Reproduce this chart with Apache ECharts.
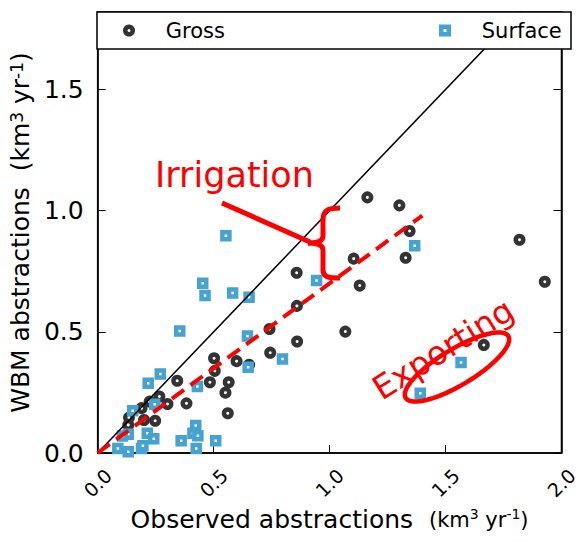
<!DOCTYPE html>
<html>
<head>
<meta charset="utf-8">
<title>WBM vs observed abstractions</title>
<script src="https://cdn.jsdelivr.net/npm/echarts@6/dist/echarts.min.js"></script>
<style>
  html, body { margin: 0; padding: 0; background: #fff; }
  #chart { width: 581px; height: 542px; }
</style>
</head>
<body>
<div id="chart"></div>
<script>
// [observed, WBM] in km3/yr
const gross = [
  [0.135, 0.146], [0.132, 0.116], [0.189, 0.185], [0.200, 0.136], [0.224, 0.212],
  [0.248, 0.133], [0.266, 0.233], [0.301, 0.202], [0.343, 0.298], [0.383, 0.205],
  [0.484, 0.292], [0.505, 0.339], [0.502, 0.391], [0.551, 0.249], [0.561, 0.164],
  [0.565, 0.292], [0.599, 0.379], [0.653, 0.364], [0.741, 0.512], [0.744, 0.414],
  [0.859, 0.607], [0.858, 0.744], [0.860, 0.460], [1.068, 0.501], [1.104, 0.802],
  [1.130, 0.691], [1.163, 1.055], [1.301, 1.022], [1.345, 0.916], [1.328, 0.806],
  [1.665, 0.446], [1.819, 0.880], [1.928, 0.707]
];
const surface = [
  [0.453, 0.701], [0.463, 0.650], [0.582, 0.660], [0.653, 0.643], [0.553, 0.897],
  [0.354, 0.504], [0.646, 0.483], [0.797, 0.388], [0.649, 0.354], [0.430, 0.274],
  [0.270, 0.326], [0.218, 0.288], [0.246, 0.201], [0.151, 0.174], [0.132, 0.077],
  [0.107, 0.070], [0.214, 0.081], [0.242, 0.059], [0.087, 0.019], [0.132, 0.005],
  [0.189, 0.019], [0.195, 0.030], [0.360, 0.051], [0.423, 0.113], [0.411, 0.081],
  [0.432, 0.071], [0.425, 0.019], [0.509, 0.051], [0.944, 0.712], [1.367, 0.855],
  [1.567, 0.373], [1.391, 0.247]
];
const oneToOne = [[0, 0], [2, 2]];
const fitLine = [[0, 0], [1.4, 0.98]];
const legendNames = ['Gross', 'Surface'];

const FONT = 'DejaVu Sans';
const RED = '#ff0000';
const DARK = '#333333';
const BLUE = '#45a3d2';
const fmt = v => (v % 0.5 === 0 ? v.toFixed(1) : '');
const units = '{u|(km}{s|3}{u| yr}{s|-1}{u|)}';

const chart = echarts.init(document.getElementById('chart'), null, { renderer: 'svg' });

const tickStyle = { show: true, inside: true, length: 8, lineStyle: { color: '#000', width: 1 } };
const redStroke = { stroke: RED, lineWidth: 5, fill: null };

// outline of the "Exporting" loop, drawn as a polygon
const loop = [];
for (let i = 0; i < 48; i++) {
  const t = i / 48 * Math.PI * 2;
  const a = -31 * Math.PI / 180;
  const ex = 60 * Math.cos(t), ey = 18 * Math.sin(t);
  loop.push([457 + ex * Math.cos(a) - ey * Math.sin(a), 367 + ex * Math.sin(a) + ey * Math.cos(a)]);
}

const legendItem = (name, icon, color, left) => ({
  data: [{ name, icon }], left, top: 20, padding: 0, z: 6,
  itemWidth: 7.5, itemHeight: 7.5, selectedMode: false,
  itemStyle: { color: '#fff', borderColor: color, borderWidth: 4.5 },
  textStyle: { fontFamily: FONT, fontSize: 21, color: '#000', padding: [0, 0, 0, 28] }
});

const option = {
  backgroundColor: '#fff',
  animation: false,
  grid: {
    left: 97, right: 10, top: 12, bottom: 89,
    show: true, borderColor: '#000', borderWidth: 1.5
  },
  legend: [
    legendItem(legendNames[0], 'circle', DARK, 123),
    legendItem(legendNames[1], 'rect', BLUE, 439)
  ],
  xAxis: {
    type: 'value', min: 0, max: 2, interval: 0.5,
    name: '{a|Observed abstractions  }' + units,
    nameLocation: 'middle', nameGap: 50,
    nameTextStyle: {
      rich: {
        a: { fontFamily: FONT, fontSize: 25, color: '#000' },
        u: { fontFamily: FONT, fontSize: 21, color: '#000' },
        s: { fontFamily: FONT, fontSize: 14, color: '#000', verticalAlign: 'top' }
      }
    },
    axisLine: { show: true, lineStyle: { color: '#000', width: 1.5 } },
    axisTick: tickStyle,
    splitLine: { show: false },
    axisLabel: {
      rotate: 45, align: 'center', verticalAlign: 'middle', margin: 30,
      fontFamily: FONT, fontSize: 19, color: '#000', formatter: fmt
    }
  },
  yAxis: [
    {
      type: 'value', min: 0, max: 1.82, interval: 0.5,
      name: '{u|WBM abstractions  }' + units,
      nameLocation: 'middle', nameGap: 56,
      nameTextStyle: {
        rich: {
          u: { fontFamily: FONT, fontSize: 25, color: '#000' },
          s: { fontFamily: FONT, fontSize: 17, color: '#000', verticalAlign: 'top' }
        }
      },
      axisLine: { show: true, lineStyle: { color: '#000', width: 1.5 } },
      axisTick: tickStyle,
      splitLine: { show: false },
      axisLabel: {
        fontFamily: FONT, fontSize: 25, color: '#000', margin: 14,
        showMaxLabel: false, formatter: fmt
      }
    },
    {
      type: 'value', min: 0, max: 1.82, interval: 0.5, position: 'right',
      axisLine: { show: true, lineStyle: { color: '#000', width: 1.5 } },
      axisTick: tickStyle,
      axisLabel: { show: false },
      splitLine: { show: false }
    }
  ],
  series: [
    {
      name: 'Gross', type: 'scatter', data: gross, z: 2,
      symbol: 'circle', symbolSize: 7.5,
      itemStyle: { color: '#fff', borderColor: DARK, borderWidth: 4.5, opacity: 1 }
    },
    {
      name: 'Surface', type: 'scatter', data: surface, z: 2,
      symbol: 'rect', symbolSize: 7,
      itemStyle: { color: '#fff', borderColor: BLUE, borderWidth: 4.5, opacity: 1 }
    },
    {
      name: '1:1', type: 'line', data: oneToOne, z: 3,
      symbol: 'none', clip: true, silent: true,
      lineStyle: { color: '#000', width: 1.5 }
    },
    {
      name: 'fit', type: 'line', data: fitLine, z: 4,
      symbol: 'none', clip: true, silent: true,
      lineStyle: { color: RED, width: 4, type: [15, 8] }
    }
  ],
  graphic: [
    // legend frame
    {
      type: 'rect', z: 5,
      shape: { x: 97, y: 12, width: 474, height: 37 },
      style: { fill: '#fff', stroke: '#000', lineWidth: 1.5 }
    },
    // hand-drawn annotations
    {
      type: 'text', z: 7, x: 155, y: 175,
      style: { text: 'Irrigation', fill: RED, font: '35px "DejaVu Sans"', verticalAlign: 'middle' }
    },
    { type: 'line', z: 7, shape: { x1: 222, y1: 203, x2: 310, y2: 242 }, style: redStroke },
    { type: 'bezierCurve', z: 7, shape: { x1: 340, y1: 208, cpx1: 328, cpy1: 208, cpx2: 323, cpy2: 210, x2: 323, y2: 220 }, style: redStroke },
    { type: 'line', z: 7, shape: { x1: 323, y1: 220, x2: 323, y2: 236 }, style: redStroke },
    { type: 'bezierCurve', z: 7, shape: { x1: 323, y1: 236, cpx1: 323, cpy1: 241, cpx2: 318, cpy2: 243, x2: 308, y2: 243 }, style: redStroke },
    { type: 'bezierCurve', z: 7, shape: { x1: 308, y1: 243, cpx1: 318, cpy1: 243, cpx2: 323, cpy2: 245, x2: 323, y2: 250 }, style: redStroke },
    { type: 'line', z: 7, shape: { x1: 323, y1: 250, x2: 323, y2: 270 }, style: redStroke },
    { type: 'bezierCurve', z: 7, shape: { x1: 323, y1: 270, cpx1: 323, cpy1: 277, cpx2: 328, cpy2: 278, x2: 340, y2: 278 }, style: redStroke },
    { type: 'polygon', z: 7, shape: { points: loop }, style: { stroke: RED, lineWidth: 4.5, fill: null } },
    {
      type: 'text', z: 7, x: 443, y: 349, rotation: 32 * Math.PI / 180,
      style: {
        text: 'Exporting', fill: RED, font: '33px "DejaVu Sans"',
        align: 'center', verticalAlign: 'middle'
      }
    }
  ]
};

chart.setOption(option);
</script>
</body>
</html>
